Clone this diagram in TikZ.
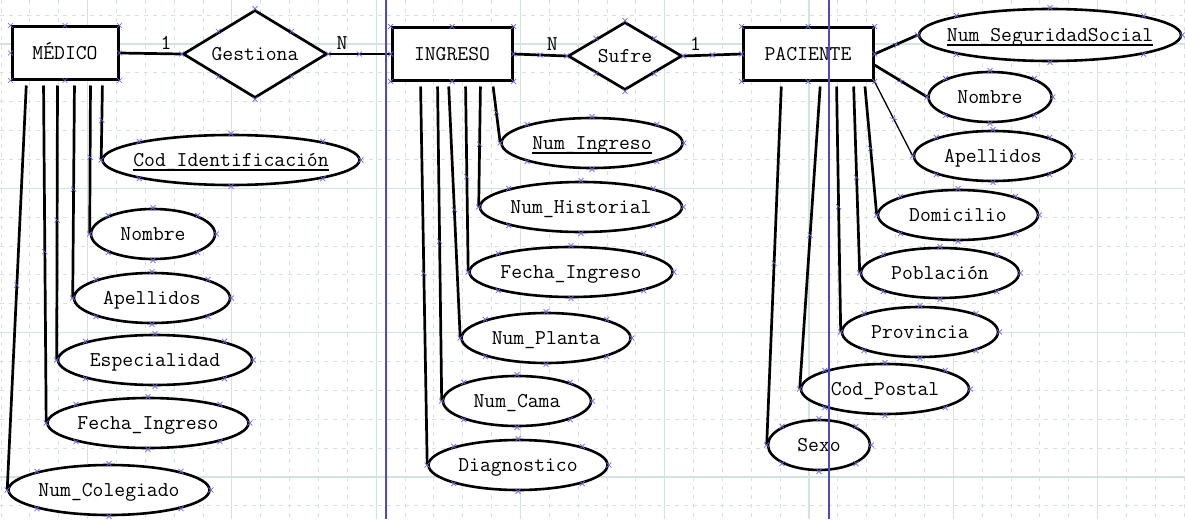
\documentclass[tikz,border=0pt]{standalone}
\usepackage{fontspec}
\usetikzlibrary{positioning,shapes.geometric,decorations.markings}

\definecolor{rejilla}{RGB}{212,226,226}
\definecolor{marcaazul}{RGB}{105,105,225}
\definecolor{pagina}{RGB}{75,75,200}

\newcommand{\etq}[1]{\makebox[0pt]{#1}}
\newcommand{\clave}[1]{\setbox0\hbox{#1}\rlap{\rule[-4.5pt]{\wd0}{2pt}}\box0}
\newcommand{\marcas}[1]{%
  \foreach \a in {north,south,east,west,north east,north west,south east,south west}
    {\draw[cruz] (#1.\a) +(-2.5pt,-2.5pt) -- +(2.5pt,2.5pt) +(-2.5pt,2.5pt) -- +(2.5pt,-2.5pt);}}

\begin{document}
\begin{tikzpicture}
	[x=1pt,y=-1pt,
	every node/.style={font=\ttfamily\fontsize{21.07}{23}\selectfont,text height=12.8pt,text depth=0pt},
	entidad/.style={rectangle,draw,fill=white,line width=3pt,minimum height=52pt,inner sep=0pt},
	relacion/.style={diamond,draw,fill=white,line width=2.7pt,inner sep=0pt},
	atributo/.style={ellipse,draw,fill=white,line width=2.6pt,minimum height=50pt,inner sep=0pt},
	cruz/.style={draw=marcaazul,line width=.7pt},
	linea/.style={line width=2.7pt,postaction={decorate},decoration={markings,mark=at position .5 with {\draw[cruz] (-2.5pt,-2.5pt) -- (2.5pt,2.5pt) (-2.5pt,2.5pt) -- (2.5pt,-2.5pt);}}},
	baja/.style={linea,shorten <=5pt},
	menor/.style={draw=rejilla,line width=.8pt,dash pattern=on 4pt off 5pt},
	mayor/.style={draw=rejilla,line width=1.2pt}]
	\useasboundingbox (0,0) rectangle (1185,519);
	\fill[white] (0,0) rectangle (1185,519);
	
	% rejilla
	\foreach \i in {0,...,41}
		\draw[menor] ({0.9+28.86*\i},0) -- ({0.9+28.86*\i},519);
	\foreach \i in {0,...,17}
		\draw[menor] (0,{15.1+28.86*\i}) -- (1185,{15.1+28.86*\i});
	\foreach \i in {0,...,7}
		\draw[mayor] ({87.5+144.3*\i},0) -- ({87.5+144.3*\i},519);
	\foreach \i in {0,...,3}
		\draw[mayor] (0,{44+144.3*\i}) -- (1185,{44+144.3*\i});
	
	\node [entidad,minimum width=106pt] (medico) at (65,53) {MÉDICO};
	\node [relacion,minimum width=144pt,minimum height=88pt] (gestiona) at (255,54) {\etq{Gestiona}};
	\node [entidad,minimum width=120pt] (ingreso) at (452,54) {INGRESO};
	\node [relacion,minimum width=114pt,minimum height=68pt] (sufre) at (625,56) {\etq{Sufre}};
	\node [entidad,minimum width=130pt] (paciente) at (808,54) {PACIENTE};
	
	\node [atributo,minimum width=257pt] (codid) at (231,160) {\etq{\clave{Cod\_Identificación}}};
	\node [atributo,minimum width=124pt] (nombreM) at (153,234) {\etq{Nombre}};
	\node [atributo,minimum width=156pt] (apellidosM) at (152,298) {\etq{Apellidos}};
	\node [atributo,minimum width=194pt] (especialidad) at (155,360) {\etq{Especialidad}};
	\node [atributo,minimum width=201pt] (fechaM) at (148,423) {\etq{Fecha\_Ingreso}};
	\node [atributo,minimum width=201pt] (colegiado) at (109,490) {\etq{Num\_Colegiado}};
	
	\node [atributo,minimum width=181pt] (numingreso) at (592,143) {\etq{\clave{Num\_Ingreso}}};
	\node [atributo,minimum width=202pt] (historial) at (581,207) {\etq{Num\_Historial}};
	\node [atributo,minimum width=203pt] (fechaI) at (571,272) {\etq{Fecha\_Ingreso}};
	\node [atributo,minimum width=169pt] (planta) at (546,338) {\etq{Num\_Planta}};
	\node [atributo,minimum width=148pt] (cama) at (517,401) {\etq{Num\_Cama}};
	\node [atributo,minimum width=179pt] (diagnostico) at (518,465) {\etq{Diagnostico}};
	
	\node [atributo,minimum width=262pt,minimum height=52pt] (numss) at (1050,35) {\etq{\clave{Num\_SeguridadSocial}}};
	\node [atributo,minimum width=123pt] (nombreP) at (990,97) {\etq{Nombre}};
	\node [atributo,minimum width=158pt] (apellidosP) at (993,156) {\etq{Apellidos}};
	\node [atributo,minimum width=160pt] (domicilio) at (958,215) {\etq{Domicilio}};
	\node [atributo,minimum width=158pt] (poblacion) at (940,273) {\etq{Población}};
	\node [atributo,minimum width=156pt] (provincia) at (920,332) {\etq{Provincia}};
	\node [atributo,minimum width=168pt] (postal) at (885,389) {\etq{Cod\_Postal}};
	\node [atributo,minimum width=102pt] (sexo) at (819,445) {\etq{Sexo}};
	
	\draw[line width=2.7pt] (medico.east) -- node[pos=.75,above] (card1) {1} (gestiona.west);
	\draw[linea] (gestiona.east) -- node[pos=.22,above] (card2) {N} (ingreso.west);
	\draw[linea] (ingreso.east) -- node[pos=.73,above] (card3) {N} (sufre.west);
	\draw[linea] (sufre.east) -- node[pos=.21,above] (card4) {1} (paciente.west);
	
	\draw[baja] ([xshift=92pt]medico.south west) -- (codid.west);
	\draw[baja] ([xshift=80pt]medico.south west) -- (nombreM.west);
	\draw[baja] ([xshift=64pt]medico.south west) -- (apellidosM.west);
	\draw[baja] ([xshift=47pt]medico.south west) -- (especialidad.west);
	\draw[baja] ([xshift=33pt]medico.south west) -- (fechaM.west);
	\draw[baja] ([xshift=16pt]medico.south west) -- (colegiado.west);
	
	\draw[baja] ([xshift=102pt]ingreso.south west) -- (numingreso.west);
	\draw[baja] ([xshift=90pt]ingreso.south west) -- (historial.west);
	\draw[baja] ([xshift=75pt]ingreso.south west) -- (fechaI.west);
	\draw[baja] ([xshift=58pt]ingreso.south west) -- (planta.west);
	\draw[baja] ([xshift=47pt]ingreso.south west) -- (cama.west);
	\draw[baja] ([xshift=30pt]ingreso.south west) -- (diagnostico.west);
	
	\draw[linea] (paciente.east) -- (numss.west);
	\draw[linea] ([yshift=-11pt]paciente.east) -- (nombreP.west);
	\draw[linea,line width=1.3pt] (paciente.south east) -- (apellidosP.west);
	\draw[baja] ([xshift=123pt]paciente.south west) -- (domicilio.west);
	\draw[baja] ([xshift=112pt]paciente.south west) -- (poblacion.west);
	\draw[baja] ([xshift=95pt]paciente.south west) -- (provincia.west);
	\draw[baja] ([xshift=79pt]paciente.south west) -- (postal.west);
	\draw[baja] ([xshift=40pt]paciente.south west) -- (sexo.west);
	
	% lineas de pagina
	\draw[pagina,line width=2pt] (385.5,0) -- (385.5,519);
	\draw[pagina,line width=2pt] (828.5,0) -- (828.5,519);
	
	\foreach \n in {medico,gestiona,ingreso,sufre,paciente,codid,nombreM,apellidosM,especialidad,fechaM,colegiado,numingreso,historial,fechaI,planta,cama,diagnostico,numss,nombreP,apellidosP,domicilio,poblacion,provincia,postal,sexo}
		{\marcas{\n}}
\end{tikzpicture}
\end{document}
